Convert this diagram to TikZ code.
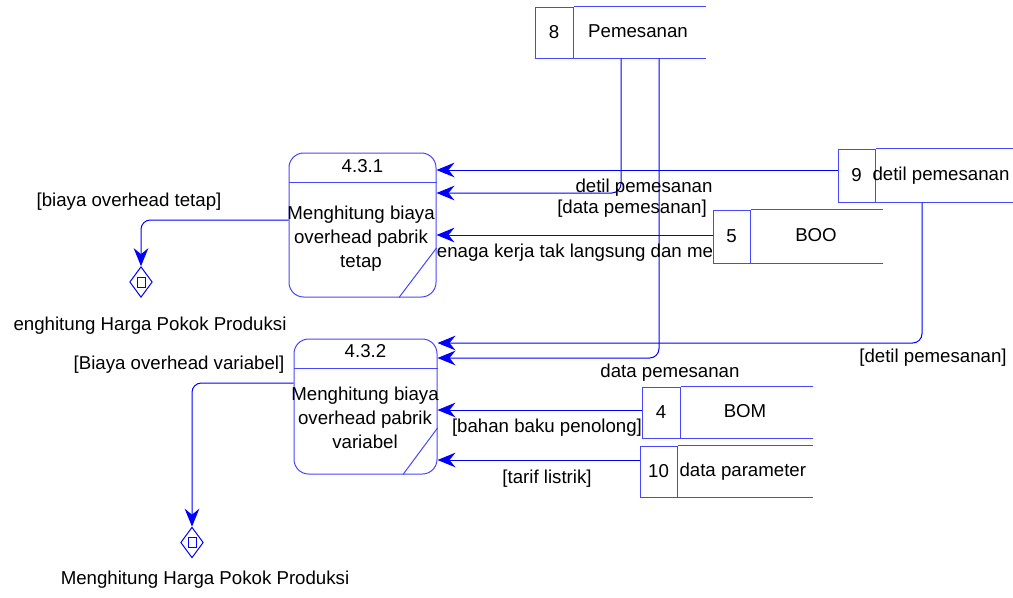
\documentclass[tikz,border=0pt]{standalone}
\usepackage{fontspec}
\setmainfont{Liberation Sans}
\usetikzlibrary{arrows.meta,shapes.geometric,calc}

\definecolor{flowblue}{RGB}{0,0,255}
\definecolor{boxblue}{RGB}{70,70,255}
\tikzset{every picture/.style={line width=0.75pt}}
\tikzset{
  proc/.style={draw=boxblue, rounded corners=11pt, inner sep=0pt},
  storenum/.style={draw=boxblue, inner sep=0pt, font=\fontsize{14}{16}\selectfont},
  extref/.style={draw=flowblue, diamond, inner sep=0pt, minimum width=17pt, minimum height=23pt},
  lbl/.style={inner sep=0pt, font=\fontsize{14}{16}\selectfont, text height=10pt, text depth=3pt},
  ptxt/.style={inner sep=0pt, align=center, font=\fontsize{14}{18}\selectfont},
  flow/.style={draw=flowblue, -{Stealth[length=13.5pt,width=11pt,inset=4.5pt]}}
}

\begin{document}
\begin{tikzpicture}[x=0.75pt,y=0.75pt,yscale=-1,xscale=1]
	\useasboundingbox (0,0) rectangle (1013,597);

	%Shape: Process 4.3.1
	\node[proc, minimum width=110.25pt, minimum height=108pt] (p431) at (362.5,225) {};
	\draw [boxblue] (p431.west |- 0,182) -- (p431.east |- 0,182) ;
	\draw [boxblue] (p431.south -| 399,0) -- (p431.east |- 0,248) ;
	\node[lbl] (p431num) at (362.5,168) {4.3.1};
	\node[ptxt] (p431txt) at (361,239) {Menghitung biaya\\overhead pabrik\\tetap};

	%Shape: Process 4.3.2
	\node[proc, minimum width=107.25pt, minimum height=101.25pt] (p432) at (365.5,406.5) {};
	\draw [boxblue] (p432.west |- 0,368) -- (p432.east |- 0,368) ;
	\draw [boxblue] (p432.south -| 403,0) -- (p432.east |- 0,428) ;
	\node[lbl] (p432num) at (365.5,353) {4.3.2};
	\node[ptxt] (p432txt) at (365,418) {Menghitung biaya\\overhead pabrik\\variabel};

	%Shape: Store 8
	\node[storenum, minimum width=28.5pt, minimum height=38.25pt] (s8num) at (554,32.5) {8};
	\draw [boxblue] (s8num.north east) -- ++(132,0) (s8num.south east) -- ++(132,0) ;
	\node[lbl] (s8name) at (638,32.5) {Pemesanan};

	%Shape: Store 9
	\node[storenum, minimum width=27.75pt, minimum height=39.75pt] (s9num) at (856.5,175.5) {9};
	\draw [boxblue] (s9num.north east) -- ++(140,0) (s9num.south east) -- ++(140,0) ;
	\node[lbl, anchor=west] (s9name) at (872,175.5) {detil pemesanan};

	%Shape: Store 5
	\node[storenum, minimum width=27.75pt, minimum height=39.75pt] (s5num) at (731.5,236.5) {5};
	\draw [boxblue] (s5num.north east) -- ++(132,0) (s5num.south east) -- ++(132,0) ;
	\node[lbl] (s5name) at (816,236.5) {BOO};

	%Shape: Store 4
	\node[storenum, minimum width=28.5pt, minimum height=38.25pt] (s4num) at (661,412.5) {4};
	\draw [boxblue] (s4num.north east) -- ++(132,0) (s4num.south east) -- ++(132,0) ;
	\node[lbl] (s4name) at (745,412.5) {BOM};

	%Shape: Store 10
	\node[storenum, minimum width=27.75pt, minimum height=38.25pt] (s10num) at (658.5,471.5) {10};
	\draw [boxblue] (s10num.north east) -- ++(135,0) (s10num.south east) -- ++(135,0) ;
	\node[lbl, anchor=west] (s10name) at (679,471.5) {data parameter};

	%Shape: External references
	\node[extref] (ext1) at (141,282) {};
	\draw [flowblue] ($(ext1.center)+(-4,-5)$) rectangle ($(ext1.center)+(4,5)$) ;
	\node[extref] (ext2) at (192,542.5) {};
	\draw [flowblue] ($(ext2.center)+(-4,-5)$) rectangle ($(ext2.center)+(4,5)$) ;

	%Straight Lines: flows into 4.3.1
	\draw [flow] (s9num.west |- 0,170) -- (p431.east |- 0,170) ;
	\draw [flow, rounded corners=7pt] (s8num.south -| 621,0) |- (p431.east |- 0,193) ;
	\draw [flow] (s5num.west |- 0,235) -- (p431.east |- 0,235) ;
	%Straight Lines: flows into 4.3.2
	\draw [flow, rounded corners=7pt] (s9num.south -| 922,0) |- (p432.east |- 0,343) ;
	\draw [flow, rounded corners=7pt] (s8num.south -| 659,0) |- (p432.east |- 0,358) ;
	\draw [flow] (s4num.west |- 0,410) -- (p432.east |- 0,410) ;
	\draw [flow] (s10num.west |- 0,460) -- (p432.east |- 0,460) ;
	%Straight Lines: flows out
	\draw [flow, rounded corners=7pt] (p431.west |- 0,220) -| (ext1.north) ;
	\draw [flow, rounded corners=7pt] (p432.west |- 0,383) -| (ext2.north) ;

	% Text Node
	\node[lbl] (lbldetil) at (644,188) {detil pemesanan};
	% Text Node
	\node[lbl] (lbldata) at (632,209) {[data pemesanan]};
	% Text Node
	\node[lbl] (lbltenaga) at (575,253) {enaga kerja tak langsung dan me};
	% Text Node
	\node[lbl] (lbltetap) at (129,202) {[biaya overhead tetap]};
	% Text Node
	\node[lbl] (lblhpp1) at (150,326) {enghitung Harga Pokok Produksi};
	% Text Node
	\node[lbl] (lblvariabel) at (179,365) {[Biaya overhead variabel]};
	% Text Node
	\node[lbl] (lbldata2) at (670,373) {data pemesanan};
	% Text Node
	\node[lbl] (lbldetil2) at (933,358) {[detil pemesanan]};
	% Text Node
	\node[lbl] (lblbahan) at (547,428) {[bahan baku penolong]};
	% Text Node
	\node[lbl] (lbltarif) at (547,479) {[tarif listrik]};
	% Text Node
	\node[lbl] (lblhpp2) at (205,580) {Menghitung Harga Pokok Produksi};

\end{tikzpicture}
\end{document}
